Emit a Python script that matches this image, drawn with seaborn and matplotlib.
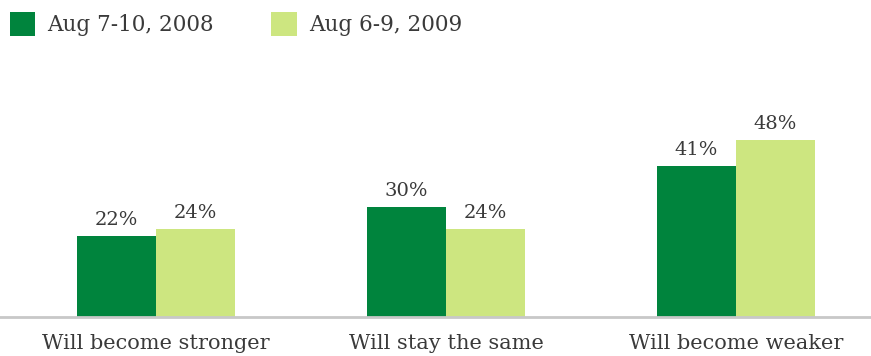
import matplotlib
matplotlib.use("Agg")
import matplotlib.pyplot as plt
from matplotlib.patches import Patch
import seaborn as sns
import pandas as pd

categories = ["Will become stronger", "Will stay the same", "Will become weaker"]
series_names = ["Aug 7-10, 2008", "Aug 6-9, 2009"]
values_2008 = [22, 30, 41]
values_2009 = [24, 24, 48]
colors = ["#00843d", "#cde680"]

df = pd.DataFrame({
    "category": categories * 2,
    "series": [series_names[0]] * 3 + [series_names[1]] * 3,
    "value": values_2008 + values_2009,
})

sns.set_theme(style="white")
plt.rcParams["font.family"] = ["DejaVu Serif"]

fig = plt.figure(figsize=(8.71, 3.56), dpi=100)
ax = fig.add_axes([0, 1 - 317 / 356, 1, 221 / 356])

sns.barplot(data=df, x="category", y="value", hue="series", order=categories,
            hue_order=series_names, palette=colors, width=0.545, gap=0,
            saturation=1, ax=ax, legend=False, edgecolor="none", linewidth=0)

for cont in ax.containers:
    ax.bar_label(cont, labels=[f"{int(v)}%" for v in cont.datavalues],
                 padding=5, fontsize=14, color="#3a3a3a")

ax.set_xlim(-156 / 290, (871 - 156) / 290)
ax.set_ylim(0, 60)
ax.set_xlabel("")
ax.set_ylabel("")
ax.set_yticks([])
for s in ["top", "left", "right"]:
    ax.spines[s].set_visible(False)
ax.spines["bottom"].set_color("#c8c8c8")
ax.spines["bottom"].set_linewidth(2)
ax.tick_params(axis="x", length=0, pad=12, labelsize=15, colors="#3a3a3a")

handles = [Patch(facecolor=c, edgecolor="none") for c in colors]
fig.legend(handles, series_names, loc="upper left",
           bbox_to_anchor=(1 / 871, 1 - 3 / 356),
           ncol=2, frameon=False, fontsize=15.5, handlelength=1.2, handleheight=1.4,
           handletextpad=0.55, columnspacing=2.65, borderaxespad=0.0,
           labelcolor="#3a3a3a")

fig.savefig("out.png", dpi=100)
